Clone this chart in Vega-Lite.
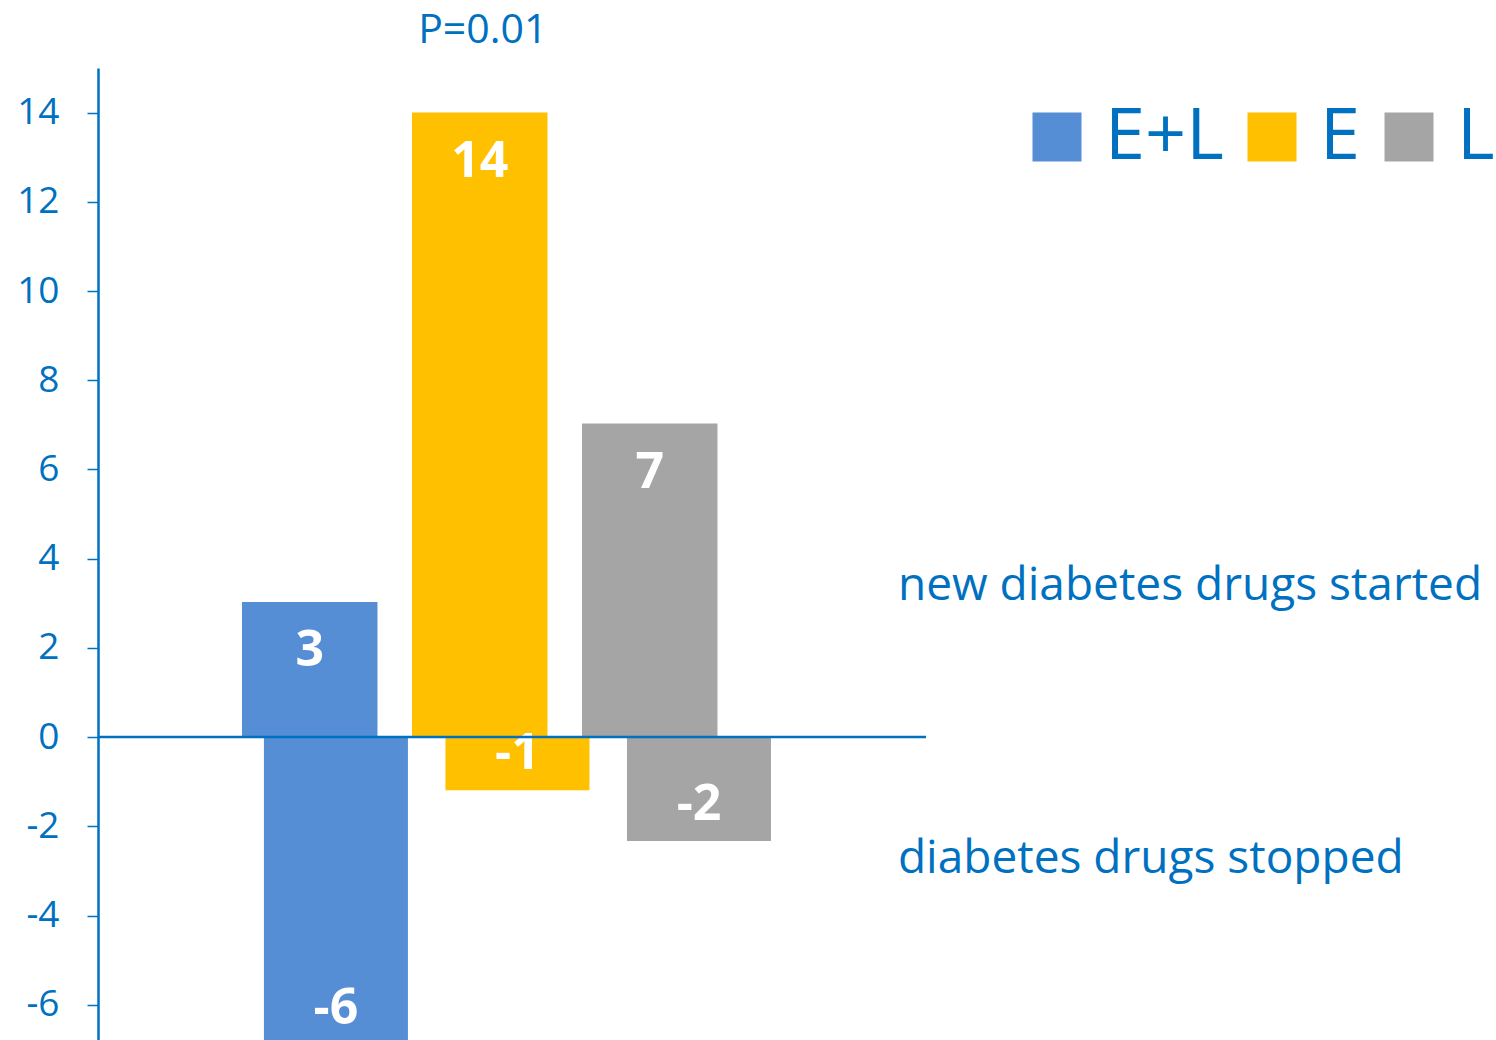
{
  "$schema": "https://vega.github.io/schema/vega-lite/v6.json",
  "autosize": "none",
  "width": 828,
  "height": 972,
  "padding": {"left": 98, "top": 68, "right": 570, "bottom": 0},
  "background": "white",
  "config": {
    "view": {"stroke": null},
    "font": "Open Sans",
    "legend": {"padding": 0}
  },
  "data": {
    "values": [
      {"group": "E+L", "direction": "started", "value": 3.03, "label": "3"},
      {"group": "E", "direction": "started", "value": 14, "label": "14"},
      {"group": "L", "direction": "started", "value": 7.03, "label": "7"},
      {"group": "E+L", "direction": "stopped", "value": -6.9, "label": "-6"},
      {"group": "E", "direction": "stopped", "value": -1.19, "label": "-1"},
      {"group": "L", "direction": "stopped", "value": -2.33, "label": "-2"}
    ]
  },
  "layer": [
    {
      "encoding": {
        "x": {
          "field": "group",
          "type": "nominal",
          "scale": {"domain": ["E+L", "E", "L"], "range": [0, 815.5], "paddingInner": 0.203, "paddingOuter": 1, "align": 0.4235, "round": false},
          "axis": null
        }
      },
      "layer": [
        {
          "transform": [{"filter": "datum.direction === 'started'"}],
          "mark": {"type": "bar", "clip": true},
          "encoding": {
            "y": {
              "field": "value",
              "type": "quantitative",
              "scale": {"domain": [-6.79, 15], "nice": false, "zero": false},
              "axis": {
                "values": [-6, -4, -2, 0, 2, 4, 6, 8, 10, 12, 14],
                "labelExpr": "replace(datum.label, '\u2212', '-')",
                "title": null,
                "grid": false,
                "domainColor": "#0070C0",
                "domainWidth": 2.5,
                "tickColor": "#0070C0",
                "tickWidth": 1.5,
                "tickSize": 11,
                "labelColor": "#0070C0",
                "labelFont": "Open Sans",
                "labelFontSize": 37,
                "labelPadding": 28
              }
            },
            "color": {
              "field": "group",
              "type": "nominal",
              "scale": {"domain": ["E+L", "E", "L"], "range": ["#558ED5", "#FFC000", "#A5A5A5"]},
              "legend": {
                "title": null,
                "orient": "none",
                "legendX": 923,
                "legendY": 33,
                "direction": "horizontal",
                "symbolType": "square",
                "symbolSize": 2401,
                "symbolStrokeWidth": 0,
                "symbolOpacity": 1,
                "labelFont": "Open Sans",
                "labelFontSize": 72,
                "labelColor": "#0070C0",
                "labelOffset": 12,
                "columnPadding": 12,
                "labelLimit": 400
              }
            }
          }
        },
        {
          "transform": [{"filter": "datum.direction === 'started'"}],
          "mark": {"type": "text", "color": "white", "fontWeight": "bold", "fontSize": 50, "baseline": "middle", "dy": 49, "font": "Open Sans"},
          "encoding": {
            "y": {"field": "value", "type": "quantitative"},
            "text": {"field": "label"}
          }
        },
        {
          "data": {"values": [{}]},
          "mark": {"type": "text", "text": "P=0.01", "color": "#0070C0", "fontSize": 41, "baseline": "alphabetic", "dx": 3, "font": "Open Sans"},
          "encoding": {"x": {"datum": "E"}, "y": {"datum": 15.57}}
        }
      ]
    },
    {
      "encoding": {
        "x": {
          "field": "group",
          "type": "nominal",
          "scale": {"domain": ["E+L", "E", "L"], "paddingInner": 0.2066, "paddingOuter": 0.884, "align": 0.517, "round": false},
          "axis": null
        }
      },
      "layer": [
        {
          "transform": [{"filter": "datum.direction === 'stopped'"}],
          "mark": {"type": "bar", "clip": true},
          "encoding": {
            "y": {"field": "value", "type": "quantitative"},
            "color": {"field": "group", "type": "nominal"}
          }
        },
        {
          "transform": [{"filter": "datum.direction === 'stopped'"}],
          "mark": {"type": "text", "color": "white", "fontWeight": "bold", "fontSize": 50, "baseline": "middle", "dy": -36, "font": "Open Sans"},
          "encoding": {
            "y": {"field": "value", "type": "quantitative"},
            "text": {"field": "label"}
          }
        },
        {
          "data": {"values": [{}]},
          "mark": {"type": "text", "text": "new diabetes drugs started", "color": "#0070C0", "fontSize": 46, "align": "left", "baseline": "alphabetic", "dx": 199, "font": "Open Sans"},
          "encoding": {"x": {"datum": "L"}, "y": {"datum": 3.07}}
        },
        {
          "data": {"values": [{}]},
          "mark": {"type": "text", "text": "diabetes drugs stopped", "color": "#0070C0", "fontSize": 46, "align": "left", "baseline": "alphabetic", "dx": 199, "font": "Open Sans"},
          "encoding": {"x": {"datum": "L"}, "y": {"datum": -3.05}}
        }
      ]
    },
    {
      "data": {"values": [{}]},
      "mark": {"type": "rule", "color": "#0070C0", "strokeWidth": 2.5},
      "encoding": {"y": {"datum": 0}}
    }
  ],
  "resolve": {"scale": {"x": "independent"}}
}
